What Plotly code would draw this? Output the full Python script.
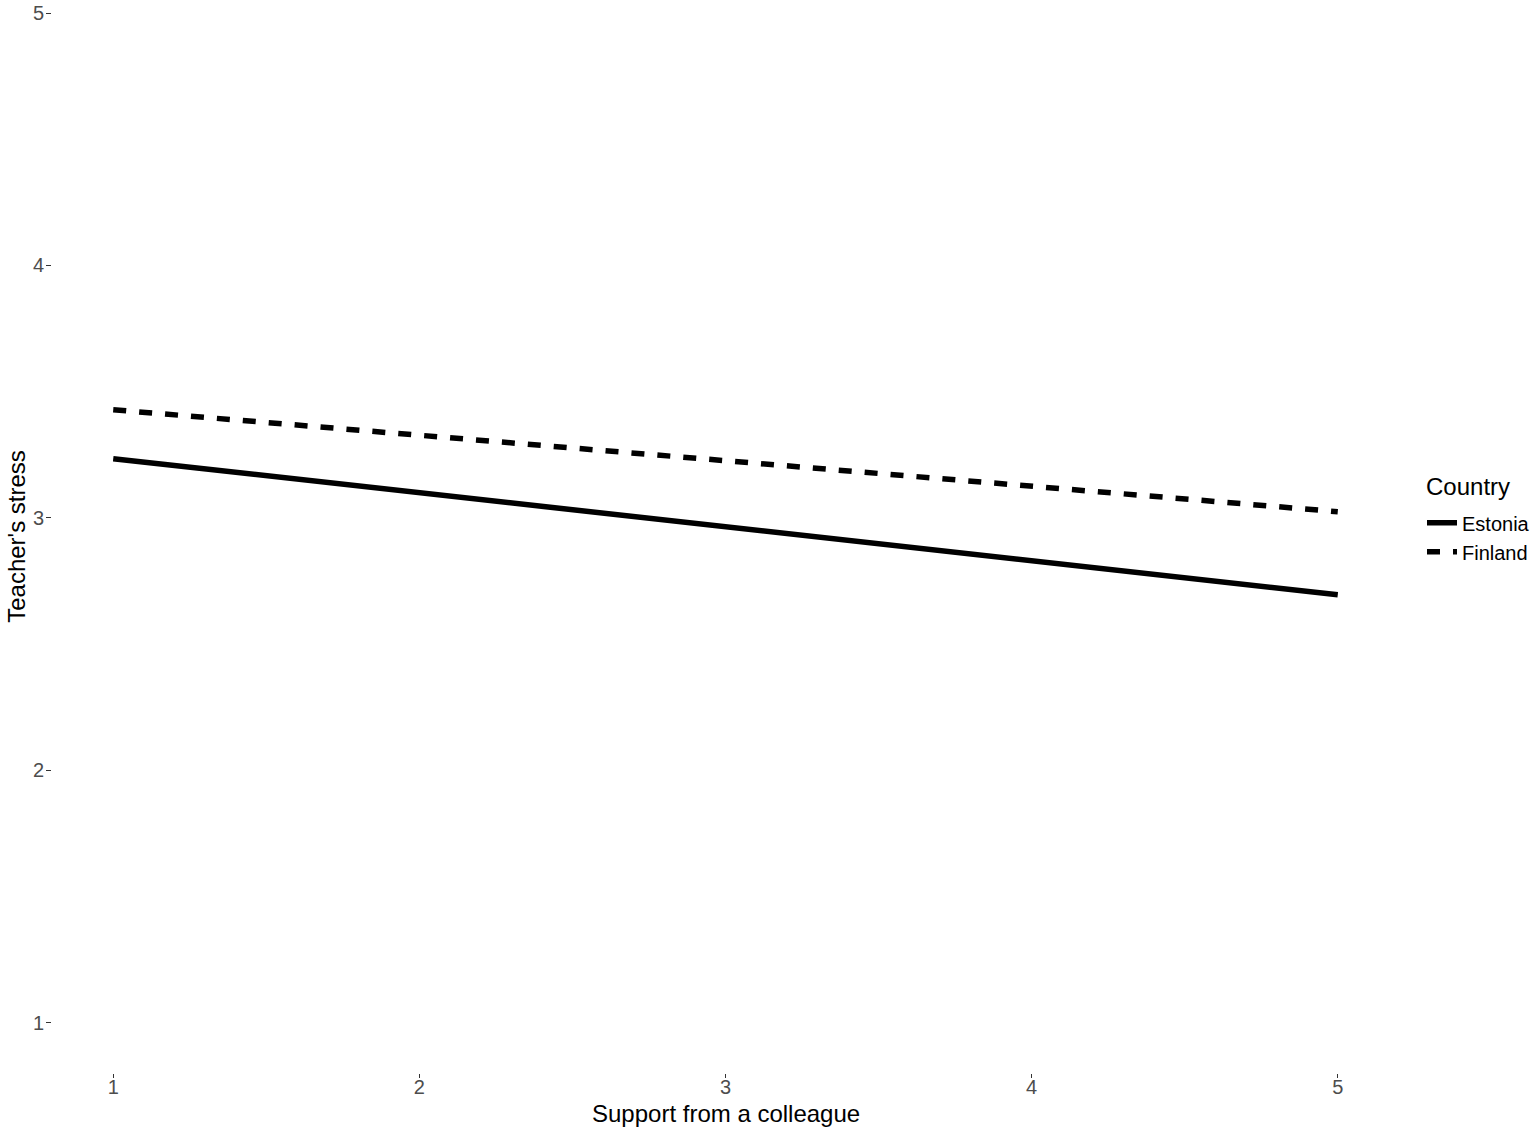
import plotly.graph_objects as go

support = [1, 5]
estonia = [3.234, 2.695]
finland = [3.428, 3.024]
x_ticks = [1, 2, 3, 4, 5]
y_ticks = [1, 2, 3, 4, 5]

fig = go.Figure()
fig.add_trace(go.Scatter(x=support, y=estonia, mode="lines", name="Estonia",
                         line=dict(color="black", width=5.5, dash="solid")))
fig.add_trace(go.Scatter(x=support, y=finland, mode="lines", name="Finland",
                         line=dict(color="black", width=5.5, dash="13px,13px")))

font = "Liberation Sans, Arial, sans-serif"
fig.update_layout(
    width=1535, height=1133,
    paper_bgcolor="white", plot_bgcolor="white",
    margin=dict(l=52, r=135, t=0, b=60),
    font=dict(family=font, color="black"),
    xaxis=dict(range=[0.8, 5.2], tickvals=x_ticks, ticks="outside", ticklen=4,
               tickcolor="#333333", tickwidth=1, showgrid=False, zeroline=False,
               showline=False, tickfont=dict(size=20, color="#4D4D4D"),
               ticklabelstandoff=-8),
    yaxis=dict(range=[0.8, 5.0515], tickvals=y_ticks, ticks="outside", ticklen=5,
               tickcolor="#333333", tickwidth=1, showgrid=False, zeroline=False,
               showline=False, tickfont=dict(size=20, color="#4D4D4D"),
               ticklabelstandoff=-2,
               title=dict(text="Teacher's stress", font=dict(size=24), standoff=0)),
    legend=dict(font=dict(size=20), x=1.017, xanchor="left", y=0.531, yanchor="top",
                itemwidth=30, tracegroupgap=0),
    annotations=[
        dict(text="Country", xref="paper", yref="paper", x=1.0185, y=0.547,
             xanchor="left", yanchor="middle", showarrow=False,
             font=dict(size=24, color="black")),
        dict(text="Support from a colleague", xref="paper", yref="paper", x=0.5,
             y=-0.0373, xanchor="center", yanchor="middle", showarrow=False,
             font=dict(size=24, color="black")),
    ],
)

fig.write_html("out.html", config={"displayModeBar": False},
               post_script="document.body.style.margin='0';")
